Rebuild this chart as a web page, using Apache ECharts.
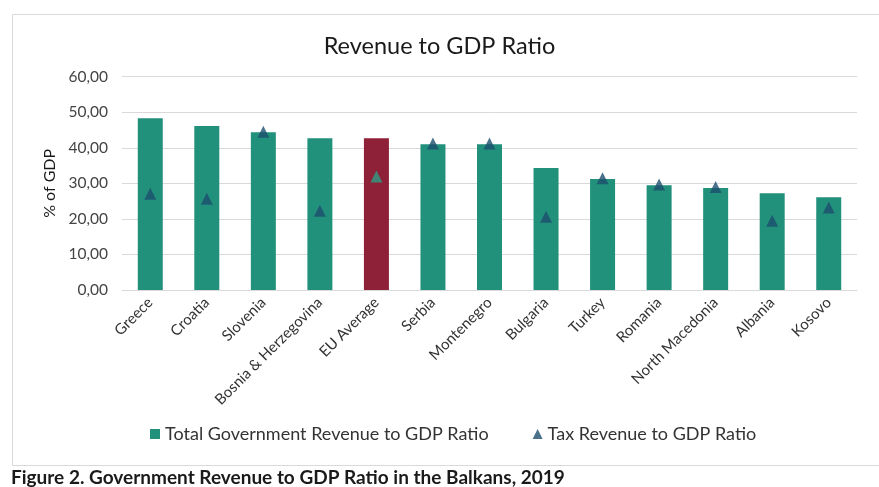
<!DOCTYPE html>
<html>
<head>
<meta charset="utf-8">
<script src="https://cdn.jsdelivr.net/npm/echarts@6/dist/echarts.min.js"></script>
<style>
html,body{margin:0;padding:0;background:#fff;}
#c{width:879px;height:487px;}
</style>
</head>
<body>
<div id="c"></div>
<script>
const categories = ["Greece","Croatia","Slovenia","Bosnia & Herzegovina","EU Average","Serbia","Montenegro","Bulgaria","Turkey","Romania","North Macedonia","Albania","Kosovo"];
const totalRevenue = [48.3, 46.1, 44.4, 42.7, 42.7, 41.0, 41.0, 34.3, 31.2, 29.5, 28.7, 27.2, 26.1];
const taxRevenue = [27.1, 25.7, 44.5, 22.3, 31.9, 41.2, 41.2, 20.6, 31.4, 29.7, 29.0, 19.5, 23.2];
const yTicks = [0, 10, 20, 30, 40, 50, 60];
const highlight = "EU Average";

const TEAL = "#22917B", MAROON = "#8E2037", NAVY = "#1D4F6E", TEAL_TRI = "#2E9E86";
const FONT = "Lato";

const chart = echarts.init(document.getElementById('c'));
chart.setOption({
  backgroundColor: '#fff',
  textStyle: {fontFamily: FONT},
  title: {
    text: 'Revenue to GDP Ratio',
    left: 'center', top: 29,
    textStyle: {fontFamily: FONT, fontSize: 23.5, fontWeight: 'normal', color: '#1a1a1a'}
  },
  grid: {left: 122, right: 22, top: 76.7, bottom: 197, containLabel: false},
  legend: {
    bottom: 39, left: 145, itemGap: 44, itemWidth: 10, itemHeight: 10,
    textStyle: {fontFamily: FONT, fontSize: 18, color: '#333'},
    data: [
      {name: 'Total Government Revenue to GDP Ratio', icon: 'rect', itemStyle: {color: TEAL}},
      {name: 'Tax Revenue to GDP Ratio', icon: 'triangle', itemStyle: {color: NAVY}}
    ]
  },
  xAxis: {
    type: 'category', data: categories,
    axisLine: {lineStyle: {color: '#d9d9d9'}},
    axisTick: {show: false},
    axisLabel: {rotate: 45, interval: 0, margin: 10, fontFamily: FONT, fontSize: 15, color: '#333'}
  },
  yAxis: {
    type: 'value', min: yTicks[0], max: yTicks[yTicks.length-1], interval: yTicks[1]-yTicks[0],
    name: '% of GDP', nameLocation: 'middle', nameRotate: 90, nameGap: 62,
    nameTextStyle: {fontFamily: FONT, fontSize: 16, color: '#1a1a1a'},
    axisLine: {show: false}, axisTick: {show: false},
    axisLabel: {margin: 14, fontFamily: FONT, fontSize: 15.5, color: '#444',
      formatter: v => v.toFixed(2).replace('.', ',')},
    splitLine: {lineStyle: {color: '#d9d9d9'}}
  },
  series: [
    {
      name: 'Total Government Revenue to GDP Ratio', type: 'bar', barWidth: 25,
      itemStyle: {color: TEAL},
      data: totalRevenue.map((v, i) => ({value: v, itemStyle: {color: categories[i] === highlight ? MAROON : TEAL}})),
      z: 2
    },
    {
      name: 'Tax Revenue to GDP Ratio', type: 'scatter', symbol: 'triangle', symbolSize: 12,
      itemStyle: {color: NAVY},
      data: taxRevenue.map((v, i) => ({value: v, itemStyle: {color: categories[i] === highlight ? TEAL_TRI : NAVY}})),
      z: 3
    }
  ],
  graphic: [
    {type: 'rect', left: 10, top: 12, shape: {width: 868, height: 451}, style: {fill: null, stroke: '#d9d9d9', lineWidth: 1}, silent: true, z: -1},
    {type: 'text', left: 11, top: 468, style: {text: 'Figure 2. Government Revenue to GDP Ratio in the Balkans, 2019', font: 'bold 19px Lato', fill: '#1a1a1a'}}
  ]
});
</script>
</body>
</html>
